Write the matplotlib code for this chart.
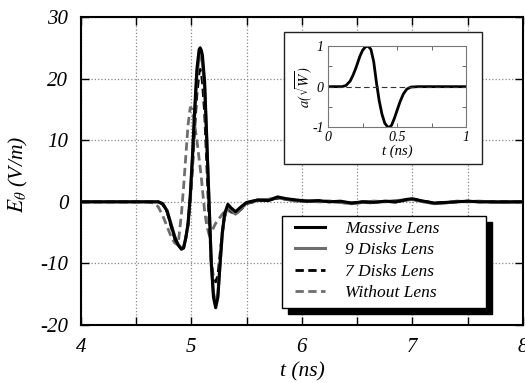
import numpy as np
import matplotlib
matplotlib.use('Agg')
import matplotlib.pyplot as plt
from matplotlib.patches import Rectangle
from matplotlib.lines import Line2D
from matplotlib.ticker import MultipleLocator

plt.rcParams['font.family'] = 'Liberation Serif'
plt.rcParams['font.style'] = 'italic'
plt.rcParams['mathtext.fontset'] = 'stix'
plt.rcParams['axes.unicode_minus'] = False

# far-field E_theta, time in ns
t = [4.00, 4.60, 4.66, 4.70, 4.74, 4.78, 4.82, 4.85, 4.88, 4.91,
     4.93, 4.95, 4.97, 4.99, 5.01, 5.03, 5.05, 5.07, 5.08, 5.09,
     5.10, 5.12, 5.14, 5.16, 5.18, 5.20, 5.22, 5.24, 5.26, 5.28,
     5.30, 5.33, 5.36, 5.40, 5.45, 5.50, 5.60, 5.70, 5.78, 5.86,
     5.95, 6.05, 6.15, 6.25, 6.35, 6.45, 6.55, 6.65, 6.75, 6.85,
     6.95, 7.00, 7.10, 7.20, 7.30, 7.40, 7.50, 7.60, 7.80, 8.00]

massive = [0, 0, 0, 0, -0.3, -1.5, -4.0, -5.8, -7.0, -7.7,
           -7.5, -5.8, -3.5, 1.0, 7.5, 15.0, 21.5, 24.7, 25.0, 24.6,
           23.8, 19.5, 10.0, 0.0, -10.0, -15.5, -17.2, -15.5, -10.0, -5.0,
           -2.0, -0.4, -1.0, -1.6, -0.8, -0.1, 0.3, 0.2, 0.8, 0.5,
           0.3, 0.1, 0.2, 0.0, 0.1, -0.2, 0.0, -0.1, 0.1, 0.0,
           0.4, 0.5, 0.1, -0.2, -0.1, 0.0, 0.1, 0.0, 0.0, 0.0]

disks9 = [0, 0, 0, 0, -0.3, -1.4, -3.8, -5.6, -6.9, -7.6,
          -7.4, -5.9, -3.7, 0.6, 6.8, 14.0, 20.5, 23.6, 24.0, 23.5,
          22.5, 18.5, 9.5, 0.0, -9.5, -14.8, -16.5, -15.0, -10.0, -5.3,
          -2.3, -0.8, -1.3, -2.0, -1.1, -0.2, 0.3, 0.4, 0.7, 0.4,
          0.1, 0.2, 0.0, 0.1, -0.1, -0.3, -0.1, 0.1, 0.0, 0.2,
          0.3, 0.4, 0.0, -0.3, -0.2, 0.1, 0.0, 0.1, -0.1, 0.0]

disks7 = [0, 0, 0, 0, -0.4, -1.6, -4.2, -6.0, -7.1, -7.6,
          -7.3, -5.8, -3.8, 0.2, 5.5, 12.0, 17.5, 21.0, 21.5, 21.0,
          19.5, 14.5, 6.0, -3.0, -9.5, -12.5, -13.0, -12.0, -8.5, -5.0,
          -2.5, -1.0, -1.5, -2.0, -1.2, -0.3, 0.2, 0.3, 0.6, 0.4,
          0.2, 0.1, 0.1, 0.0, 0.0, -0.2, 0.0, 0.0, 0.1, 0.0,
          0.3, 0.4, 0.1, -0.2, -0.1, 0.0, 0.1, 0.0, 0.0, 0.0]

no_lens = [0, 0, -0.2, -0.8, -2.2, -4.0, -5.8, -6.7, -7.0, -2.0,
           2.5, 7.5, 12.5, 15.3, 15.0, 12.5, 10.0, 7.0, 5.5, 4.0,
           2.0, -1.5, -4.0, -5.3, -5.0, -4.2, -3.5, -3.0, -2.5, -2.0,
           -1.6, -1.4, -1.7, -1.9, -1.0, -0.3, 0.2, 0.4, 0.6, 0.5,
           0.2, 0.0, 0.2, 0.1, -0.1, -0.3, -0.1, -0.2, 0.1, -0.1,
           0.3, 0.4, 0.1, -0.3, -0.1, 0.0, 0.1, 0.0, -0.1, 0.0]

labels = ['Massive Lens', '9 Disks Lens', '7 Disks Lens', 'Without Lens']

# excitation pulse for the inset
t_pulse = [0, 0.10, 0.13, 0.16, 0.18, 0.20, 0.23, 0.25, 0.27, 0.29,
           0.31, 0.33, 0.35, 0.37, 0.39, 0.41, 0.43, 0.445, 0.46, 0.48,
           0.50, 0.52, 0.545, 0.57, 0.60, 0.65, 1.0]
a_pulse = [0, 0, 0.03, 0.14, 0.28, 0.45, 0.75, 0.90, 0.98, 1.0,
           0.92, 0.62, 0.10, -0.35, -0.68, -0.90, -0.99, -1.0, -0.95, -0.78,
           -0.58, -0.38, -0.18, -0.06, -0.01, 0, 0]

grey = '#6e6e6e'
dash = (0, (3.0, 1.6))

fig = plt.figure(figsize=(5.25, 3.83), dpi=100)
ax = fig.add_axes([0.154, 0.1514, 0.842, 0.8042])

ax.plot(t, no_lens, color=grey, lw=2.0, ls=dash, zorder=3)
ax.plot(t, disks7, color='k', lw=2.0, ls=dash, zorder=4)
ax.plot(t, disks9, color=grey, lw=2.2, zorder=4)
ax.plot(t, massive, color='k', lw=2.2, zorder=5)

ax.set_xlim(4, 8)
ax.set_ylim(-20, 30)
ax.xaxis.set_major_locator(MultipleLocator(1))
ax.xaxis.set_minor_locator(MultipleLocator(0.5))
ax.yaxis.set_major_locator(MultipleLocator(10))
ax.tick_params(which='both', direction='in', top=True, right=True,
               length=6, width=1.0, labelsize=15)
ax.tick_params(axis='x', pad=9)
ax.tick_params(axis='y', pad=9)
ax.grid(True, which='both', axis='x', ls=':', color='#888888', lw=0.9)
ax.grid(True, which='major', axis='y', ls=':', color='#888888', lw=0.9)
for s in ax.spines.values():
    s.set_linewidth(1.5)

ax.set_xlabel('t (ns)', fontsize=15.5, labelpad=4)
ax.set_ylabel(r'$E_\theta$ (V/m)', fontsize=15.5)
ax.yaxis.set_label_coords(-0.115, 0.49)

# legend with a hard drop shadow
lx, ly, lw_, lh = 0.537, 0.196, 0.389, 0.240
fig.patches.append(Rectangle((lx + 0.0114, ly - 0.0157), lw_, lh,
                             transform=fig.transFigure, facecolor='k',
                             edgecolor='k', zorder=6))
fig.patches.append(Rectangle((lx, ly), lw_, lh, transform=fig.transFigure,
                             facecolor='white', edgecolor='k', lw=1.0,
                             zorder=7))
handles = [Line2D([], [], color='k', lw=2.2),
           Line2D([], [], color=grey, lw=2.2),
           Line2D([], [], color='k', lw=2.0, ls=dash),
           Line2D([], [], color=grey, lw=2.0, ls=dash)]
leg = fig.legend(handles, labels, loc='center left',
                 bbox_to_anchor=(295 / 525, ly + lh / 2 + 0.003),
                 frameon=False, fontsize=12.5, handlelength=1.75,
                 handletextpad=1.15, labelspacing=0.3,
                 borderpad=0, borderaxespad=0)
leg.set_zorder(8)

# inset: excitation waveform
fig.patches.append(Rectangle((0.541, 0.572), 0.377, 0.345,
                             transform=fig.transFigure, facecolor='white',
                             edgecolor='#222222', lw=1.0, zorder=6))
ins = fig.add_axes([0.625, 0.668, 0.263, 0.2115])
ins.set_zorder(9)
ins.plot(t_pulse, a_pulse, color='k', lw=2.0)
ins.axhline(0, color='#333333', lw=0.8, ls=(0, (5, 3)))
ins.set_xlim(0, 1)
ins.set_ylim(-1, 1)
ins.set_xticks([0, 0.5, 1])
ins.set_xticklabels(['0', '0.5', '1'])
ins.xaxis.set_minor_locator(MultipleLocator(0.25))
ins.set_yticks([-1, 0, 1])
ins.set_yticklabels(['-1', '0', '1'])
ins.yaxis.set_minor_locator(MultipleLocator(0.5))
ins.tick_params(which='both', direction='in', top=True, right=True,
                length=3, width=0.7, color='#666666', labelsize=10, pad=3)
for s in ins.spines.values():
    s.set_color('#777777')
    s.set_linewidth(0.8)
ins.set_xlabel('t (ns)', fontsize=10.5, labelpad=0)
ins.set_ylabel(r'$a\left(\sqrt{W}\right)$', fontsize=10.5, labelpad=-2)

fig.savefig('out.png', dpi=100)
